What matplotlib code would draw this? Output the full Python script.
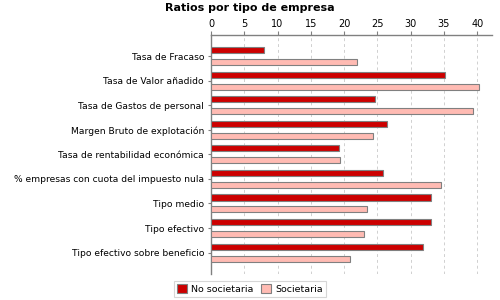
import numpy as np
import matplotlib.pyplot as plt

# Ratios por tipo de empresa
categorias = ['Tasa de Fracaso', 'Tasa de Valor añadido', 'Tasa de Gastos de personal',
              'Margen Bruto de explotación', 'Tasa de rentabilidad económica',
              '% empresas con cuota del impuesto nula', 'Tipo medio', 'Tipo efectivo',
              'Tipo efectivo sobre beneficio']
no_societaria = [7.9, 35.2, 24.6, 26.5, 19.3, 25.9, 33.1, 33.0, 31.9]
societaria = [22.0, 40.2, 39.3, 24.4, 19.45, 34.6, 23.5, 23.05, 20.95]
ticks_x = [0, 5, 10, 15, 20, 25, 30, 35, 40]

fig = plt.figure(figsize=(5, 3), dpi=100)
ax = fig.add_axes([0.422, 0.087, 0.563, 0.796])

y = np.arange(len(categorias))
h = 0.245
ax.barh(y - 0.243, no_societaria, height=h, color='#cc0000', edgecolor='#808080',
        linewidth=0.8, label='No societaria', zorder=3)
ax.barh(y + 0.243, societaria, height=h, color='#ffbbb3', edgecolor='#808080',
        linewidth=0.8, label='Societaria', zorder=3)

ax.set_xlim(0, 42.3)
ax.set_ylim(8.87, -0.86)
ax.set_xticks(ticks_x)
ax.xaxis.tick_top()
ax.tick_params(axis='x', length=3, color='#808080', labelsize=7, pad=1.5)
ax.set_yticks(y)
ax.set_yticklabels(categorias)
ax.tick_params(axis='y', length=2, color='#808080', labelsize=6.6, pad=3)
ax.grid(axis='x', linestyle=(0, (3, 3)), color='#d0d0d0', linewidth=0.7, zorder=0)

for s in ['right', 'bottom']:
    ax.spines[s].set_visible(False)
for s in ['left', 'top']:
    ax.spines[s].set_color('#808080')
    ax.spines[s].set_linewidth(1.0)

fig.suptitle('Ratios por tipo de empresa', x=0.5, y=0.99, fontsize=8, fontweight='bold')

leg = fig.legend(loc='center', bbox_to_anchor=(0.5, 0.037), ncol=2, fontsize=6.8,
                 frameon=True, fancybox=False, handlelength=1.0, handleheight=1.0,
                 handletextpad=0.5, columnspacing=0.8, borderpad=0.35)
leg.get_frame().set_edgecolor('#cccccc')
leg.get_frame().set_linewidth(0.8)

fig.savefig('out.png', dpi=100)
